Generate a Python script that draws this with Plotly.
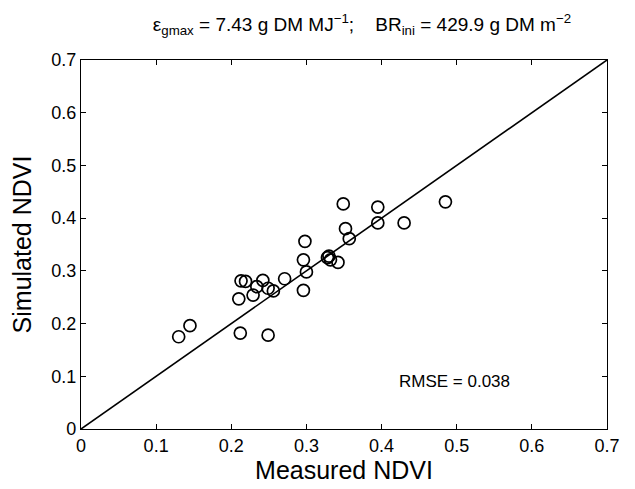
import plotly.graph_objects as go

measured = [0.130, 0.145, 0.212, 0.249, 0.210, 0.213, 0.219, 0.229, 0.234, 0.242,
            0.249, 0.256, 0.271, 0.298, 0.296, 0.300, 0.296, 0.328, 0.330, 0.332,
            0.342, 0.349, 0.352, 0.357, 0.395, 0.395, 0.430, 0.485]
simulated = [0.175, 0.196, 0.182, 0.178, 0.247, 0.281, 0.280, 0.254, 0.270, 0.282,
             0.267, 0.262, 0.285, 0.356, 0.321, 0.298, 0.263, 0.325, 0.328, 0.321,
             0.316, 0.427, 0.380, 0.361, 0.421, 0.391, 0.391, 0.431]
one_to_one = [0.0, 0.7]
ticks = [0, 0.1, 0.2, 0.3, 0.4, 0.5, 0.6, 0.7]
tick_text = ["0", "0.1", "0.2", "0.3", "0.4", "0.5", "0.6", "0.7"]

font = "Liberation Sans, Arial, Helvetica, sans-serif"

fig = go.Figure()
fig.add_trace(go.Scatter(x=one_to_one, y=one_to_one, mode="lines",
                         line=dict(color="black", width=1.6), showlegend=False))
fig.add_trace(go.Scatter(x=measured, y=simulated, mode="markers",
                         marker=dict(symbol="circle-open", size=12, color="black",
                                     line=dict(color="black", width=1.7)),
                         showlegend=False))

axis_common = dict(range=[0, 0.7], tickvals=ticks, ticktext=tick_text,
                   ticks="inside", ticklen=5, tickwidth=1, tickcolor="black",
                   showline=True, linecolor="black", linewidth=1.3, mirror="ticks",
                   showgrid=False, zeroline=False,
                   tickfont=dict(family=font, size=18, color="black"))

fig.update_layout(
    width=635, height=489,
    margin=dict(l=81, r=28, t=60, b=60),
    paper_bgcolor="white", plot_bgcolor="white",
    font=dict(family=font, color="black"),
    xaxis=dict(**axis_common, title=dict(text="Measured NDVI",
                                         font=dict(family=font, size=25), standoff=2)),
    yaxis=dict(**axis_common, title=dict(text="Simulated NDVI",
                                         font=dict(family=font, size=25), standoff=12)),
    title=dict(text="ε<sub>gmax</sub> = 7.43 g DM MJ<sup>−1</sup>;    BR<sub>ini</sub> = 429.9 g DM m<sup>−2</sup>",
               x=0.57, xanchor="center", y=0.95, yanchor="middle",
               font=dict(family=font, size=19, color="black")),
    annotations=[dict(x=0.497, y=0.09, xref="x", yref="y", text="RMSE = 0.038",
                      showarrow=False, font=dict(family=font, size=17, color="black"))],
)

fig.write_html("out.html")
